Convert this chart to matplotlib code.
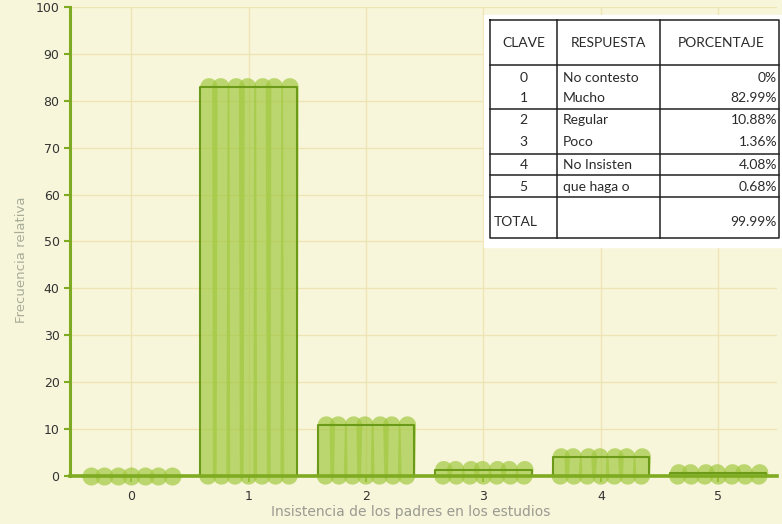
import matplotlib
matplotlib.use("Agg")
import matplotlib.pyplot as plt

# frecuencia relativa por respuesta
claves = [0, 1, 2, 3, 4, 5]
respuestas = ["No contesto", "Mucho", "Regular", "Poco", "No Insisten", "que haga o"]
porcentajes = [0.0, 82.99, 10.88, 1.36, 4.08, 0.68]
porcentajes_txt = ["0%", "82.99%", "10.88%", "1.36%", "4.08%", "0.68%"]
total_txt = "99.99%"
yticks = [0, 10, 20, 30, 40, 50, 60, 70, 80, 90, 100]

W, H = 782, 524
fondo = "#f8f6da"
verde_relleno = "#a2c941"
verde_borde = "#6b9a18"
verde_eje = "#7fab22"
grid_col = "#eee3b4"

fig = plt.figure(figsize=(W / 100, H / 100), dpi=100, facecolor=fondo)
ax = fig.add_axes([70 / W, 48 / H, 707 / W, 469 / H], facecolor=fondo)

ax.set_xlim(-0.52, 5.5)
ax.set_ylim(0, 100)
ax.set_xticks(claves)
ax.set_yticks(yticks)
ax.grid(True, color=grid_col, lw=1.0)
ax.set_axisbelow(True)

for s in ["top", "right"]:
    ax.spines[s].set_visible(False)
ax.spines["left"].set_color(verde_eje)
ax.spines["left"].set_linewidth(2.2)
ax.spines["bottom"].set_visible(False)
ax.axhline(0, color=verde_eje, lw=2.6, zorder=5, clip_on=False)

ax.tick_params(axis="both", colors=verde_eje, length=4, width=1.5,
               labelcolor="#333333", labelsize=9)
ax.tick_params(axis="x", pad=6)

# barras a mano: trazos verticales gruesos + contorno
ancho = 0.82
n_trazos = 7
inclinacion = [0.008, -0.006, 0.01, -0.008, 0.006, -0.01, 0.008]
for x, v in zip(claves, porcentajes):
    x0, x1 = x - ancho / 2, x + ancho / 2
    paso = (ancho - 0.13) / (n_trazos - 1)
    for k in range(n_trazos):
        xb = x0 + 0.065 + k * paso
        if v > 0:
            ax.plot([xb, xb + inclinacion[k]], [0, v], color=verde_relleno,
                    alpha=0.7, lw=12.5, solid_capstyle="round", zorder=3,
                    clip_on=False)
        else:
            # sin altura: solo queda el punto redondo del trazo
            ax.plot([xb], [0], "o", color=verde_relleno, alpha=0.7, ms=13,
                    mew=0, zorder=3, clip_on=False)
    ax.plot([x0, x0, x1, x1], [0, v, v, 0], color=verde_borde, lw=1.5,
            zorder=4, clip_on=False)

ax.set_xlabel("Insistencia de los padres en los estudios", color="#9a9a92",
              fontsize=10)
ax.xaxis.set_label_coords(0.482, -0.076)
ax.xaxis.label.set_va("center")
ax.set_ylabel("Frecuencia relativa", color="#a8ad98", fontsize=9.5)
ax.yaxis.set_label_coords(-0.069, 0.462)
ax.yaxis.label.set_va("center")

# tabla de respuestas
tab = fig.add_axes([0, 0, 1, 1], facecolor="none")
tab.set_xlim(0, W)
tab.set_ylim(H, 0)
tab.axis("off")
tab.add_patch(plt.Rectangle((484, 15), 300, 232, color="white", zorder=1))
borde = dict(color="#222222", lw=1.1, zorder=2)
izq, c1, c2, der = 490, 557, 660, 779
arriba, abajo = 20, 238
tab.plot([izq, der, der, izq, izq], [arriba, arriba, abajo, abajo, arriba], **borde)
for xc in [c1, c2]:
    tab.plot([xc, xc], [arriba, abajo], **borde)
for yl in [65, 109, 154, 175, 197]:
    tab.plot([izq, der], [yl, yl], **borde)

fuente = dict(fontsize=10, color="#2a2a2a", family="Lato", va="center", zorder=3)
tab.text((izq + c1) / 2, 43, "CLAVE", ha="center", **fuente)
tab.text((c1 + c2) / 2, 43, "RESPUESTA", ha="center", **fuente)
tab.text((c2 + der) / 2 + 2, 43, "PORCENTAJE", ha="center", **fuente)
filas_y = [78, 98, 120, 142, 165, 187]
for yy, c, r, p in zip(filas_y, claves, respuestas, porcentajes_txt):
    tab.text((izq + c1) / 2, yy, str(c), ha="center", **fuente)
    tab.text(c1 + 6, yy, r, ha="left", **fuente)
    tab.text(der - 2, yy, p, ha="right", **fuente)
tab.text(izq + 4, 222, "TOTAL", ha="left", **fuente)
tab.text(der - 2, 222, total_txt, ha="right", **fuente)

fig.savefig("out.png", dpi=100, facecolor=fondo)
